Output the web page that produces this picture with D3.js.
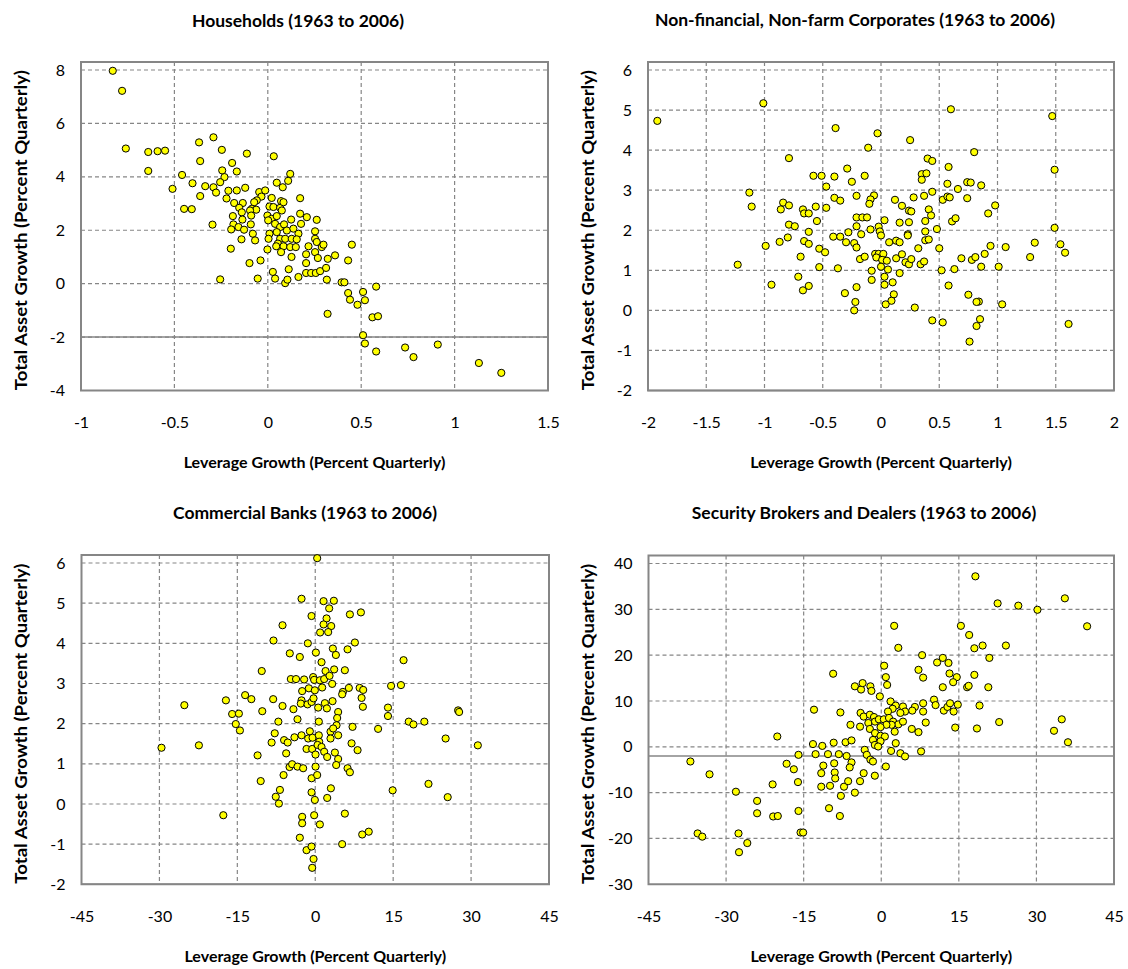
<!DOCTYPE html>
<html>
<head>
<meta charset="utf-8">
<script src="https://cdn.jsdelivr.net/npm/d3@7"></script>
<style>
body { margin: 0; background: #fff; }
svg { display: block; font-family: Lato, "Open Sans", sans-serif; }
</style>
</head>
<body>
<div id="chart"></div>
<script>
// Panel titles and axis labels
var titles = ["Households (1963 to 2006)", "Non-financial, Non-farm Corporates (1963 to 2006)",
    "Commercial Banks (1963 to 2006)", "Security Brokers and Dealers (1963 to 2006)"];
var xLabel = "Leverage Growth (Percent Quarterly)";
var yLabel = "Total Asset Growth (Percent Quarterly)";

// Tick values per panel
var householdsXTicks = [-1, -0.5, 0, 0.5, 1, 1.5];
var householdsYTicks = [-4, -2, 0, 2, 4, 6, 8];
var corporatesXTicks = [-2, -1.5, -1, -0.5, 0, 0.5, 1, 1.5, 2];
var corporatesYTicks = [-2, -1, 0, 1, 2, 3, 4, 5, 6];
var banksXTicks = [-45, -30, -15, 0, 15, 30, 45];
var banksYTicks = [-2, -1, 0, 1, 2, 3, 4, 5, 6];
var brokersXTicks = [-45, -30, -15, 0, 15, 30, 45];
var brokersYTicks = [-30, -20, -10, 0, 10, 20, 30, 40];

// [leverage growth, total asset growth]
var householdsPts = [[-0.83,7.97],[-0.78,7.22],[-0.76,5.06],[-0.64,4.93],[-0.59,4.96],[-0.55,4.98],[-0.64,4.22],[-0.51,3.55],
    [0.45,1.46],[0.43,0.87],[0.395,0.05],[0.41,0.05],[0.43,-0.35],[0.44,-0.6],[0.48,-0.79],[0.51,-0.31],[0.52,-0.62],
    [0.58,-0.11],[0.56,-1.26],[0.59,-1.22],[0.32,-1.13],[0.51,-1.93],[0.52,-2.24],[0.58,-2.54],[0.735,-2.39],[0.78,-2.75],
    [0.91,-2.28],[1.13,-2.97],[1.25,-3.34],
    [-0.368,5.29],[-0.291,5.48],[-0.246,5.01],[-0.112,4.87],[0.032,4.77],[-0.362,4.59],[-0.191,4.52],[-0.166,4.2],[-0.244,4.24],
    [-0.459,4.07],[0.12,4.11],[0.109,3.85],[-0.232,3.99],[-0.255,3.8],[-0.403,3.76],[-0.335,3.65],[-0.291,3.61],[-0.277,3.41],
    [0.048,3.78],[0.08,3.61],[-0.362,3.28],[-0.211,3.48],[-0.166,3.49],[-0.121,3.59],[-0.221,3.19],[-0.046,3.43],[-0.014,3.49],
    [-0.034,3.26],[-0.059,3.12],[-0.18,3.02],[-0.134,3.02],[-0.153,2.84],[0.021,3.21],[0.071,3.09],[0.173,3.2],[-0.448,2.8],
    [-0.407,2.79],[-0.086,2.8],[-0.062,2.77],[0.009,2.89],[0.03,2.87],[0.066,2.84],[0.084,3.05],[-0.187,2.53],[-0.139,2.67],
    [-0.095,2.74],[-0.089,2.55],[-0.073,3.05],[-0.002,2.55],[0.021,2.43],[0.048,2.53],[0.075,2.74],[0.125,2.4],[0.173,2.62],
    [0.209,2.49],[0.262,2.39],[0.178,2.24],[-0.184,2.22],[-0.136,2.4],[-0.296,2.21],[-0.196,2.03],[-0.157,2.12],[-0.127,2.02],
    [-0.091,2.22],[-0.08,1.87],[-0.068,1.62],[0.002,2.37],[0.039,2.24],[0.066,2.12],[0.087,2.22],[0.102,1.99],[0.137,2.06],
    [0.164,1.87],[0.009,1.87],[0.004,1.68],[0.048,1.93],[0.066,1.68],[0.093,1.68],[0.128,1.68],[0.155,1.66],[0.054,1.5],
    [0.084,1.4],[0.12,1.37],[0.15,1.37],[0.045,1.4],[0.071,1.18],[-0.002,1.28],[-0.198,1.31],[-0.141,1.66],[0.253,1.96],
    [0.253,1.68],[0.218,1.4],[0.262,1.56],[0.289,1.37],[0.298,1.46],[0.205,1.1],[0.253,1.18],[0.268,0.96],[0.205,0.77],
    [0.321,0.93],[0.36,1.06],[0.127,1.0],[-0.098,0.77],[-0.039,0.87],[-0.255,0.16],[-0.054,0.19],[0.027,0.44],[0.039,0.19],
    [0.093,0.02],[0.105,0.15],[0.112,0.54],[0.164,0.25],[0.205,0.4],[0.232,0.4],[0.257,0.4],[0.28,0.47],[0.316,0.15],[0.312,0.59]];

var corporatesPts = [[-1.92,4.73],[-1.01,5.17],[-0.39,4.55],[-0.79,3.8],[-0.58,3.36],[-0.51,3.36],[-0.4,3.34],[-0.29,3.54],
    [-0.25,3.21],[-0.47,3.09],[-1.13,2.94],[-1.11,2.59],[-0.84,2.69],[-0.86,2.52],[-0.79,2.62],[-0.67,2.52],[-0.66,2.42],
    [-0.62,2.42],[-0.56,2.59],[-0.47,2.56],[-0.4,2.81],[-0.35,2.74],[-0.21,2.86],[-0.79,2.14],[-0.74,2.1],[-0.55,2.23],
    [-0.62,1.96],[-0.99,1.61],[-0.87,1.71],[-0.8,1.82],[-0.66,1.73],[-0.62,1.66],[-0.53,1.54],[-0.48,1.45],[-0.41,1.84],
    [-0.35,1.84],[-0.28,1.95],[-0.3,1.7],[-0.23,1.68],[-0.21,1.57],[-0.21,2.32],[-0.21,2.1],[-0.69,1.34],[-0.53,1.08],
    [-0.37,1.05],[-1.23,1.14],[-0.94,0.64],[-0.71,0.84],[-0.67,0.5],[-0.62,0.61],[-0.31,0.43],[-0.21,0.58],[-0.22,0.21],[-0.23,0.0],
    [0.6,5.02],[1.47,4.85],[-0.03,4.42],[0.25,4.25],[-0.11,4.06],[0.8,3.95],[0.4,3.79],[0.44,3.73],[0.58,3.58],[1.49,3.51],
    [0.35,3.4],[0.39,3.42],[0.35,3.26],[-0.14,3.36],[0.74,3.2],[0.77,3.19],[0.57,3.16],[0.86,3.12],[0.66,3.03],[-0.06,2.87],
    [-0.09,2.77],[-0.1,2.66],[0.12,2.76],[0.18,2.61],[0.24,2.49],[0.26,2.47],[0.28,2.82],[0.37,2.86],[0.44,2.96],[0.53,2.76],
    [0.57,2.84],[0.59,2.82],[0.74,2.8],[0.98,2.62],[0.92,2.42],[0.41,2.52],[0.43,2.37],[0.38,2.23],[0.61,2.22],[0.64,2.3],
    [-0.16,2.32],[-0.12,2.32],[0.03,2.25],[0.16,2.19],[0.24,2.2],[-0.09,2.02],[-0.02,2.09],[-0.01,1.97],[0.0,1.87],[-0.17,1.9],
    [0.23,1.9],[0.23,1.87],[0.38,1.97],[0.48,2.03],[0.38,1.75],[0.41,1.77],[0.07,1.7],[0.13,1.74],[0.16,1.7],[-0.18,1.28],
    [-0.14,1.34],[-0.05,1.41],[-0.02,1.41],[-0.04,1.32],[0.02,1.41],[0.01,1.26],[0.05,1.24],[0.0,1.09],[0.06,1.02],[0.13,1.3],
    [0.18,1.4],[0.21,1.2],[0.24,1.15],[0.26,1.28],[0.32,1.55],[0.34,1.15],[0.37,1.22],[0.5,1.55],[0.52,1.0],[0.63,1.03],
    [0.69,1.3],[0.78,1.26],[0.81,1.33],[0.86,1.09],[0.89,1.41],[0.94,1.61],[1.01,1.09],[1.07,1.58],[1.28,1.33],[1.32,1.69],
    [1.49,2.06],[1.54,1.65],[1.58,1.44],[1.61,-0.34],[-0.08,0.99],[-0.08,0.76],[0.03,0.84],[0.03,0.64],[0.1,0.7],[0.11,0.4],
    [0.09,0.24],[0.04,0.15],[0.16,0.93],[0.29,0.07],[0.44,-0.25],[0.53,-0.3],[0.58,0.62],[0.75,0.39],[0.84,0.22],[0.82,0.21],
    [0.85,-0.22],[0.82,-0.39],[0.76,-0.78],[1.04,0.15]];

var banksPts = [[-29.6,1.4],[-25.2,2.46],[-22.4,1.46],[14.0,2.4],[14.0,2.19],[14.6,2.94],[14.9,0.34],[17.0,3.58],[16.5,2.96],
    [18.0,2.05],[18.9,1.98],[21.0,2.05],[21.8,0.5],[25.1,1.63],[25.5,0.17],[27.5,2.33],[27.7,2.29],[31.3,1.46],
    [-6.3,4.45],[-8.04,4.07],[-4.9,3.75],[-10.3,3.31],[-4.7,3.11],[-3.7,3.11],[-17.2,2.58],[-13.5,2.71],[-12.3,2.61],[-8.1,2.61],
    [-6.3,2.44],[-10.2,2.31],[-4.2,2.36],[-16.0,2.24],[-14.7,2.25],[-15.3,1.99],[-14.5,1.83],[-7.1,2.05],[-7.8,1.76],[-8.4,1.53],
    [-6.0,1.59],[-5.3,1.53],[-4.0,1.66],[-5.6,1.26],[-11.1,1.21],[-4.95,0.92],[-4.45,0.99],[-6.1,0.72],[-10.5,0.57],[-6.8,0.35],
    [-7.6,0.18],[-7.0,0.01],[-17.7,-0.28],
    [0.37,6.12],[-2.64,5.11],[1.6,5.05],[3.58,5.06],[2.68,4.87],[-0.72,4.68],[6.67,4.72],[8.79,4.77],[2.18,4.62],[1.6,4.47],
    [3.07,4.43],[0.94,4.27],[2.49,4.28],[-1.43,4.0],[7.63,4.02],[6.22,3.85],[3.39,3.87],[3.97,3.71],[-2.97,3.66],[0.12,3.77],
    [1.21,3.53],[1.98,3.31],[3.64,3.35],[5.7,3.33],[-2.14,3.1],[-0.4,3.16],[-0.21,3.09],[0.89,3.08],[1.72,3.11],[2.75,3.19],
    [3.26,2.99],[-2.52,2.81],[-1.23,2.88],[-0.08,2.83],[1.33,2.9],[5.32,2.79],[6.47,2.89],[8.54,2.89],[9.23,2.84],[8.92,2.64],
    [9.17,2.42],[5.18,2.73],[-2.64,2.58],[-2.78,2.5],[-1.48,2.48],[-0.71,2.54],[-0.33,2.63],[0.56,2.4],[1.85,2.51],[2.24,2.38],
    [3.33,2.56],[4.41,2.29],[4.22,2.14],[4.1,1.96],[7.18,1.92],[12.1,1.87],[0.69,2.05],[-3.42,2.11],[-2.64,1.71],[-1.04,1.81],
    [-1.36,1.63],[-0.52,1.65],[0.69,1.71],[0.76,1.55],[2.94,1.8],[3.45,1.88],[2.94,1.63],[4.41,1.71],[-1.68,1.37],[-0.59,1.37],
    [0.44,1.47],[0.05,1.23],[1.21,1.42],[1.72,1.3],[2.3,1.17],[3.78,1.28],[4.41,1.12],[4.03,0.97],[6.99,1.51],[8.15,1.34],
    [-3.42,0.93],[-2.33,0.89],[0.06,0.93],[6.22,0.89],[6.67,0.79],[-0.71,0.64],[0.37,0.72],[3.01,0.39],[2.3,0.15],[-0.71,0.29],
    [-0.08,0.1],[-0.21,-0.28],[0.89,-0.51],[5.7,-0.24],[-2.52,-0.32],[-2.52,-0.48],[-2.97,-0.84],[5.18,-1.0],[9.04,-0.76],
    [10.3,-0.69],[-1.68,-1.15],[-0.71,-1.06],[-0.33,-1.37],[-0.59,-1.59]];

var brokersPts = [[-36.9,-3.2],[-33.2,-6.0],[-35.5,-18.9],[-34.6,-19.6],[-28.1,-9.8],[-27.6,-18.9],[-27.5,-23.0],[-25.9,-21.0],
    [-24.0,-11.8],[-24.0,-14.5],[18.2,37.2],[15.4,26.4],[17.0,24.4],[19.6,22.1],[18.0,21.5],[20.9,19.4],[24.1,22.1],[22.5,31.3],
    [26.5,30.8],[30.2,29.9],[35.5,32.4],[39.8,26.3],[18.0,15.7],[16.6,13.0],[16.9,13.3],[20.7,13.0],[19.0,9.0],[18.5,4.0],
    [22.8,5.4],[33.4,3.5],[34.9,6.0],[36.1,1.0],[14.6,15.2],[13.9,14.1],
    [-9.3,15.95],[-5.1,13.2],[-3.9,12.5],[-3.6,13.9],[-13.0,8.1],[-7.9,7.5],[-20.1,2.25],[-5.95,4.8],[-4.0,7.4],[-4.1,4.4],
    [-13.2,0.6],[-11.4,0.2],[-9.2,0.9],[-6.9,1.0],[-5.75,1.4],[-16.0,-1.75],[-12.7,-1.6],[-10.3,-1.6],[-8.2,-1.6],[-6.7,-2.0],
    [-18.3,-3.7],[-16.9,-4.9],[-11.2,-4.1],[-9.1,-3.6],[-11.6,-5.75],[-9.0,-5.6],[-8.9,-6.9],[-5.75,-3.4],[-6.1,-4.5],[-16.1,-7.7],
    [-21.0,-8.2],[-11.6,-8.7],[-7.2,-8.7],[-6.4,-7.5],[-4.1,-7.5],[-9.9,-8.5],[-7.8,-10.7],[-5.1,-10.0],[-10.1,-13.4],[-16.0,-14.0],
    [-20.9,-15.2],[-20.0,-15.1],[-8.0,-15.1],[-15.6,-18.7],[-15.1,-18.7],
    [2.5,26.4],[3.3,21.6],[7.9,20.0],[0.56,17.7],[7.2,16.8],[8.1,15.1],[10.8,18.4],[11.9,19.4],[13.0,18.3],[13.2,16.0],[0.89,15.2],
    [1.14,13.5],[11.9,13.0],[-2.1,13.2],[-1.9,12.2],[-0.27,11.0],[1.8,9.9],[2.8,9.0],[4.2,8.8],[4.6,7.7],[3.7,7.4],[2.2,8.3],
    [1.3,7.7],[6.5,8.7],[6.0,7.9],[8.1,9.5],[8.1,7.7],[10.2,10.3],[10.5,9.1],[12.1,7.9],[12.8,8.7],[13.3,9.5],[14.0,7.7],[14.3,4.2],
    [14.8,9.2],[8.6,5.3],[7.2,3.2],[7.7,-1.0],[5.9,3.9],[2.8,0.8],[1.9,-0.9],[3.7,-1.4],[4.6,-2.1],[0.89,-4.3],[-1.24,-6.3],
    [-3.4,-5.75],[-3.4,6.6],[-2.2,7.0],[-1.4,6.5],[-2.5,5.2],[-1.2,5.5],[-0.46,6.0],[0.5,6.0],[1.5,6.3],[2.3,5.5],[3.3,4.9],
    [4.2,5.5],[2.0,4.8],[1.0,4.8],[-0.14,4.3],[-2.2,3.9],[-1.2,3.0],[-0.14,2.4],[0.7,2.25],[2.6,3.3],[-1.6,1.5],[-0.14,1.2],
    [-1.24,0.4],[-0.6,0.07],[-3.2,-0.66],[-2.8,-1.75],[-2.1,-2.8],[-1.6,-3.2]];

// Layout of the four panels (pixel positions of the plot areas)
var panels = [
    {title: titles[0], pts: householdsPts, xTicks: householdsXTicks, yTicks: householdsYTicks,
        left: 81, right: 548, top: 70, bottom: 390.5, titleX: 298, titleY: 21, xLabY: 462, yLabX: 21},
    {title: titles[1], pts: corporatesPts, xTicks: corporatesXTicks, yTicks: corporatesYTicks,
        left: 648, right: 1114, top: 70, bottom: 390.5, titleX: 855, titleY: 20, xLabY: 462, yLabX: 588},
    {title: titles[2], pts: banksPts, xTicks: banksXTicks, yTicks: banksYTicks,
        left: 81.5, right: 549, top: 563, bottom: 884.3, titleX: 305, titleY: 513, xLabY: 956, yLabX: 21},
    {title: titles[3], pts: brokersPts, xTicks: brokersXTicks, yTicks: brokersYTicks,
        left: 648.5, right: 1114, top: 563.5, bottom: 884.3, titleX: 864, titleY: 513, xLabY: 956, yLabX: 588}
];

var gridColor = "#868686";

var svg = d3.select("#chart").append("svg")
    .attr("width", 1128)
    .attr("height", 969);

panels.forEach(drawPanel);

function drawPanel(p) {
    var xScale = d3.scaleLinear()
        .domain(d3.extent(p.xTicks))
        .range([p.left, p.right]);
    var yScale = d3.scaleLinear()
        .domain(d3.extent(p.yTicks))
        .range([p.bottom, p.top]);

    var g = svg.append("g");

    // dashed gridlines
    g.selectAll(".vgrid")
        .data(p.xTicks.slice(1, -1))
        .enter().append("line")
        .attr("x1", function(d) { return xScale(d); })
        .attr("x2", function(d) { return xScale(d); })
        .attr("y1", p.top - 8)
        .attr("y2", p.bottom)
        .attr("stroke", gridColor)
        .attr("stroke-width", 1.2)
        .attr("stroke-dasharray", "4,3");

    g.selectAll(".hgrid")
        .data(p.yTicks.slice(1))
        .enter().append("line")
        .attr("x1", p.left)
        .attr("x2", p.right)
        .attr("y1", function(d) { return yScale(d); })
        .attr("y2", function(d) { return yScale(d); })
        .attr("stroke", gridColor)
        .attr("stroke-width", 1.2)
        .attr("stroke-dasharray", "4,3");

    // horizontal axis crosses at -2
    g.append("line")
        .attr("x1", p.left)
        .attr("x2", p.right)
        .attr("y1", yScale(-2))
        .attr("y2", yScale(-2))
        .attr("stroke", gridColor)
        .attr("stroke-width", 1.5);

    // plot frame (top edge sits a little above the last gridline)
    g.append("path")
        .attr("d", "M" + p.left + "," + (p.top - 8) + "H" + p.right + "V" + p.bottom + "H" + p.left + "Z")
        .attr("fill", "none")
        .attr("stroke", gridColor)
        .attr("stroke-width", 2);

    // axes: labels only
    var xAxis = d3.axisBottom(xScale)
        .tickValues(p.xTicks)
        .tickSize(0)
        .tickPadding(26)
        .tickFormat(function(d) { return d.toString(); });
    var yAxis = d3.axisLeft(yScale)
        .tickValues(p.yTicks)
        .tickSize(0)
        .tickPadding(16)
        .tickFormat(function(d) { return d.toString(); });

    var gx = g.append("g")
        .attr("transform", "translate(0," + p.bottom + ")")
        .call(xAxis);
    var gy = g.append("g")
        .attr("transform", "translate(" + p.left + ",0)")
        .call(yAxis);
    [gx, gy].forEach(function(a) {
        a.select(".domain").remove();
        a.selectAll("text")
            .attr("fill", "#000")
            .style("font-family", "Lato, sans-serif")
            .style("font-size", "16px");
    });

    // points
    g.selectAll("circle")
        .data(p.pts)
        .enter().append("circle")
        .attr("cx", function(d) { return xScale(d[0]); })
        .attr("cy", function(d) { return yScale(d[1]); })
        .attr("r", 3.6)
        .attr("fill", "#ffff00")
        .attr("stroke", "#000")
        .attr("stroke-width", 1);

    // titles
    g.append("text")
        .attr("x", p.titleX)
        .attr("y", p.titleY)
        .attr("dy", "0.35em")
        .attr("text-anchor", "middle")
        .style("font-weight", "bold")
        .style("font-size", "17.5px")
        .text(p.title);

    g.append("text")
        .attr("x", (p.left + p.right) / 2)
        .attr("y", p.xLabY)
        .attr("dy", "0.35em")
        .attr("text-anchor", "middle")
        .style("font-weight", "bold")
        .style("font-size", "16px")
        .text(xLabel);

    g.append("text")
        .attr("transform", "translate(" + p.yLabX + "," + ((p.top + p.bottom) / 2) + ")rotate(-90)")
        .attr("dy", "0.35em")
        .attr("text-anchor", "middle")
        .attr("textLength", 320)
        .attr("lengthAdjust", "spacingAndGlyphs")
        .style("font-weight", "bold")
        .style("font-size", "17px")
        .text(yLabel);
}
</script>
</body>
</html>
